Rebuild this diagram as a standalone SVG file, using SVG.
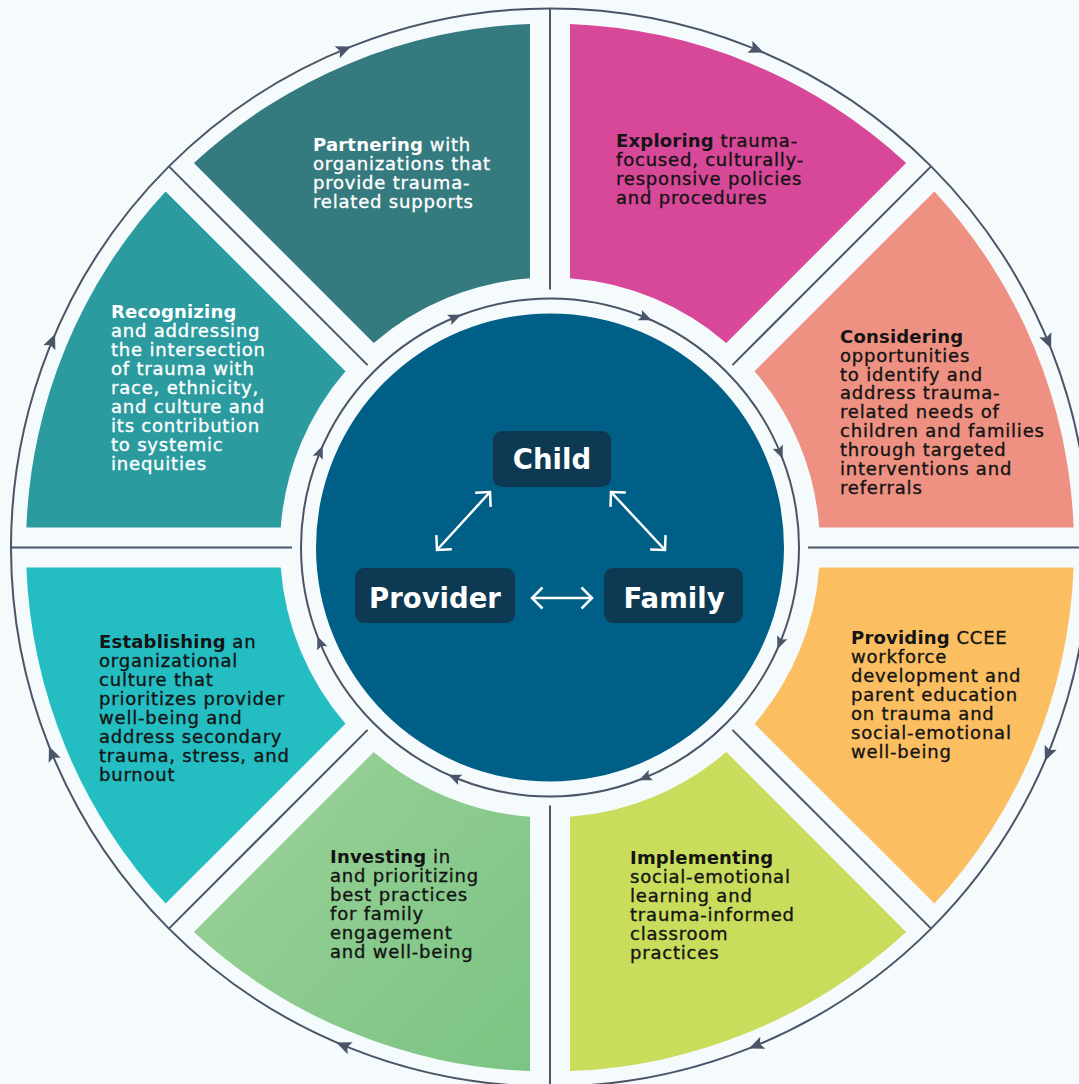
<svg xmlns="http://www.w3.org/2000/svg" width="1079" height="1084" viewBox="0 0 1079 1084">
  <defs>
    <style>
      .seg-text { font-family: "DejaVu Sans", "Liberation Sans", sans-serif; font-size: 18px; letter-spacing: 0.8px; stroke-width: 0.35px; }
      .seg-text .b { font-weight: bold; letter-spacing: 0.2px; stroke-width: 0; }
      .dark { fill: #141414; stroke: #141414; }
      .light { fill: #ffffff; stroke: #ffffff; }
      .divider { stroke: #4b5568; stroke-width: 2; fill: none; }
      .ring { stroke: #4b5568; stroke-width: 2; fill: none; }
      .tick { fill: #4b5568; }
      .hub { fill: #0d3a52; }
      .hub-label { font-family: "DejaVu Sans", "Liberation Sans", sans-serif; font-size: 27.5px; font-weight: bold; fill: #ffffff; text-anchor: middle; }
      .link { stroke: #ffffff; stroke-width: 2.5; fill: none; marker-start: url(#chev); marker-end: url(#chev); }
    </style>
    <linearGradient id="greenGrad" gradientUnits="userSpaceOnUse" x1="200" y1="760" x2="530" y2="1070">
      <stop offset="0" stop-color="#9bd298"/>
      <stop offset="1" stop-color="#7bc483"/>
    </linearGradient>
    <marker id="chev" markerUnits="userSpaceOnUse" markerWidth="30" markerHeight="30" refX="0" refY="0" orient="auto-start-reverse" overflow="visible">
      <path d="M-10.5,-10.5 L0,0 L-10.5,10.5" stroke="#ffffff" stroke-width="2.5" fill="none"/>
    </marker>
    <path id="tri" d="M8,0 L-7,-6.5 L-4,0 L-7,6.5 Z"/>
    <path id="triS" d="M7,0 L-6,-5.5 L-3.5,0 L-6,5.5 Z"/>
  </defs>

  <rect width="1079" height="1084" fill="#f5fafd"/>

  <!-- outer and inner cycle rings with direction ticks -->
  <g id="cycle">
    <circle class="ring" cx="550" cy="547.5" r="539"/>
    <circle class="ring" cx="550" cy="547.5" r="249"/>
    <g class="tick">
      <use href="#tri" transform="translate(343.7,49.5) rotate(-22.5)"/>
      <use href="#tri" transform="translate(756.3,49.5) rotate(22.5)"/>
      <use href="#tri" transform="translate(1048,341.3) rotate(67.5)"/>
      <use href="#tri" transform="translate(1048,753.7) rotate(112.5)"/>
      <use href="#tri" transform="translate(756.3,1045.5) rotate(157.5)"/>
      <use href="#tri" transform="translate(343.7,1045.5) rotate(202.5)"/>
      <use href="#tri" transform="translate(52,753.7) rotate(247.5)"/>
      <use href="#tri" transform="translate(52,341.3) rotate(292.5)"/>

      <use href="#triS" transform="translate(454.7,317.5) rotate(-22.5)"/>
      <use href="#triS" transform="translate(645.3,317.5) rotate(22.5)"/>
      <use href="#triS" transform="translate(780,452.2) rotate(67.5)"/>
      <use href="#triS" transform="translate(780,642.8) rotate(112.5)"/>
      <use href="#triS" transform="translate(645.3,777.5) rotate(157.5)"/>
      <use href="#triS" transform="translate(454.7,777.5) rotate(202.5)"/>
      <use href="#triS" transform="translate(320,642.8) rotate(247.5)"/>
      <use href="#triS" transform="translate(320,452.2) rotate(292.5)"/>
    </g>
  </g>

  <!-- radial dividers between the eight sectors -->
  <g id="dividers" class="divider">
    <line x1="550" y1="8.5" x2="550" y2="289.5"/>
    <line x1="550" y1="805.5" x2="550" y2="1084"/>
    <line x1="11" y1="547.5" x2="292" y2="547.5"/>
    <line x1="808" y1="547.5" x2="1079" y2="547.5"/>
    <line x1="732.4" y1="365.1" x2="931.1" y2="166.4"/>
    <line x1="732.4" y1="729.9" x2="931.1" y2="928.6"/>
    <line x1="367.6" y1="729.9" x2="168.9" y2="928.6"/>
    <line x1="367.6" y1="365.1" x2="168.9" y2="166.4"/>
  </g>

  <g id="exploring">
    <path fill="#d74898" d="M570,278.24 L570,23.88 A524,524 0 0 1 906.11,163.10 L726.25,342.96 A270,270 0 0 0 570,278.24 Z"/>
    <text class="seg-text dark" x="616" y="146.5"><tspan class="b">Exploring</tspan> trauma-<tspan x="616" dy="19">focused, culturally-</tspan><tspan x="616" dy="19">responsive policies</tspan><tspan x="616" dy="19">and procedures</tspan></text>
  </g>

  <g id="considering">
    <path fill="#ee9182" d="M754.54,371.25 L934.40,191.39 A524,524 0 0 1 1073.62,527.5 L819.26,527.5 A270,270 0 0 0 754.54,371.25 Z"/>
    <text class="seg-text dark" x="840" y="342.7"><tspan class="b">Considering</tspan><tspan x="840" dy="18.9">opportunities</tspan><tspan x="840" dy="18.9">to identify and</tspan><tspan x="840" dy="18.9">address trauma-</tspan><tspan x="840" dy="18.9">related needs of</tspan><tspan x="840" dy="18.9">children and families</tspan><tspan x="840" dy="18.9">through targeted</tspan><tspan x="840" dy="18.9">interventions and</tspan><tspan x="840" dy="18.9">referrals</tspan></text>
  </g>

  <g id="providing">
    <path fill="#fbbf62" d="M819.26,567.5 L1073.62,567.5 A524,524 0 0 1 934.40,903.61 L754.54,723.75 A270,270 0 0 0 819.26,567.5 Z"/>
    <text class="seg-text dark" x="851" y="643.5"><tspan class="b">Providing</tspan> CCEE<tspan x="851" dy="19">workforce</tspan><tspan x="851" dy="19">development and</tspan><tspan x="851" dy="19">parent education</tspan><tspan x="851" dy="19">on trauma and</tspan><tspan x="851" dy="19">social-emotional</tspan><tspan x="851" dy="19">well-being</tspan></text>
  </g>

  <g id="implementing">
    <path fill="#c9dc5c" d="M726.25,752.04 L906.11,931.90 A524,524 0 0 1 570,1071.12 L570,816.76 A270,270 0 0 0 726.25,752.04 Z"/>
    <text class="seg-text dark" x="630" y="863.5"><tspan class="b">Implementing</tspan><tspan x="630" dy="19">social-emotional</tspan><tspan x="630" dy="19">learning and</tspan><tspan x="630" dy="19">trauma-informed</tspan><tspan x="630" dy="19">classroom</tspan><tspan x="630" dy="19">practices</tspan></text>
  </g>

  <g id="investing">
    <path fill="url(#greenGrad)" d="M530,816.76 L530,1071.12 A524,524 0 0 1 193.89,931.90 L373.75,752.04 A270,270 0 0 0 530,816.76 Z"/>
    <text class="seg-text dark" x="330" y="863.3"><tspan class="b">Investing</tspan> in<tspan x="330" dy="19">and prioritizing</tspan><tspan x="330" dy="19">best practices</tspan><tspan x="330" dy="19">for family</tspan><tspan x="330" dy="19">engagement</tspan><tspan x="330" dy="19">and well-being</tspan></text>
  </g>

  <g id="establishing">
    <path fill="#24bdc2" d="M345.46,723.75 L165.60,903.61 A524,524 0 0 1 26.38,567.5 L280.74,567.5 A270,270 0 0 0 345.46,723.75 Z"/>
    <text class="seg-text dark" x="99" y="647.5"><tspan class="b">Establishing</tspan> an<tspan x="99" dy="19">organizational</tspan><tspan x="99" dy="19">culture that</tspan><tspan x="99" dy="19">prioritizes provider</tspan><tspan x="99" dy="19">well-being and</tspan><tspan x="99" dy="19">address secondary</tspan><tspan x="99" dy="19">trauma, stress, and</tspan><tspan x="99" dy="19">burnout</tspan></text>
  </g>

  <g id="recognizing">
    <path fill="#2c9ba0" d="M280.74,527.5 L26.38,527.5 A524,524 0 0 1 165.60,191.39 L345.46,371.25 A270,270 0 0 0 280.74,527.5 Z"/>
    <text class="seg-text light" x="111" y="317.5"><tspan class="b">Recognizing</tspan><tspan x="111" dy="19">and addressing</tspan><tspan x="111" dy="19">the intersection</tspan><tspan x="111" dy="19">of trauma with</tspan><tspan x="111" dy="19">race, ethnicity,</tspan><tspan x="111" dy="19">and culture and</tspan><tspan x="111" dy="19">its contribution</tspan><tspan x="111" dy="19">to systemic</tspan><tspan x="111" dy="19">inequities</tspan></text>
  </g>

  <g id="partnering">
    <path fill="#357a7e" d="M373.75,342.96 L193.89,163.10 A524,524 0 0 1 530,23.88 L530,278.24 A270,270 0 0 0 373.75,342.96 Z"/>
    <text class="seg-text light" x="313" y="151.3"><tspan class="b">Partnering</tspan> with<tspan x="313" dy="19">organizations that</tspan><tspan x="313" dy="19">provide trauma-</tspan><tspan x="313" dy="19">related supports</tspan></text>
  </g>

  <!-- central disc -->
  <circle id="core" cx="550" cy="547.5" r="234" fill="#005f86"/>

  <g id="child">
    <rect class="hub" x="493" y="431" width="118" height="56" rx="9"/>
    <text class="hub-label" x="552" y="469">Child</text>
  </g>
  <g id="provider">
    <rect class="hub" x="355" y="568" width="160" height="55" rx="9"/>
    <text class="hub-label" x="435" y="608">Provider</text>
  </g>
  <g id="family">
    <rect class="hub" x="604" y="568" width="139" height="55" rx="9"/>
    <text class="hub-label" x="674" y="608">Family</text>
  </g>

  <g id="connectors">
    <line class="link" x1="490" y1="492" x2="437" y2="550"/>
    <line class="link" x1="611" y1="492" x2="665" y2="550"/>
    <line class="link" x1="532" y1="598" x2="592" y2="598"/>
  </g>
</svg>
